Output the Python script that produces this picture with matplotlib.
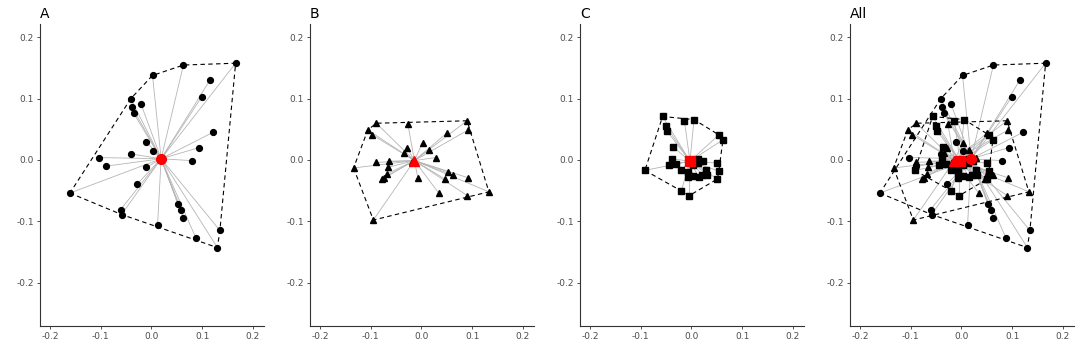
import numpy as np
import matplotlib.pyplot as plt

# === Data ===
a_x = [0.166, 0.063, 0.002, -0.041, 0.115, 0.099, -0.039, -0.021, -0.035, 0.121,
       -0.010, 0.093, 0.002, -0.041, -0.104, 0.079, -0.089, -0.010, -0.029, -0.161,
       0.052, 0.059, 0.063, -0.061, -0.059, 0.012, 0.088, 0.135, 0.130]
a_y = [0.158, 0.155, 0.138, 0.100, 0.130, 0.103, 0.087, 0.092, 0.076, 0.045,
       0.030, 0.020, 0.015, 0.010, 0.004, -0.001, -0.010, -0.012, -0.040, -0.054,
       -0.072, -0.082, -0.094, -0.081, -0.089, -0.106, -0.128, -0.115, -0.143]
a_cent = (0.019, 0.002)

b_x = [-0.089, -0.027, 0.090, -0.106, -0.097, 0.050, 0.092, 0.002, -0.028, -0.035,
       0.014, 0.028, -0.018, -0.090, -0.065, -0.066, -0.134, -0.069, -0.074, -0.077,
       0.052, 0.063, 0.092, 0.046, -0.007, 0.133, 0.034, 0.090, -0.095]
b_y = [0.060, 0.059, 0.064, 0.049, 0.041, 0.044, 0.049, 0.028, 0.019, 0.012,
       0.017, 0.004, -0.004, -0.004, -0.002, -0.012, -0.013, -0.023, -0.029, -0.031,
       -0.019, -0.025, -0.029, -0.031, -0.030, -0.052, -0.054, -0.058, -0.098]
b_cent = (-0.014, -0.001)

c_x = [-0.057, -0.014, 0.005, -0.051, -0.049, 0.054, 0.062, -0.037, -0.038, -0.044,
       -0.030, -0.021, -0.092, 0.012, 0.023, 0.002, 0.012, -0.006, -0.006, 0.002,
       0.014, 0.021, 0.031, 0.028, -0.020, -0.004, 0.051, 0.054, 0.051]
c_y = [0.071, 0.064, 0.066, 0.056, 0.048, 0.041, 0.033, 0.022, 0.002, -0.008,
       -0.006, -0.016, -0.017, 0.002, -0.001, -0.008, -0.005, -0.019, -0.027, -0.026,
       -0.027, -0.024, -0.024, -0.016, -0.050, -0.058, -0.005, -0.018, -0.031]
c_cent = (-0.003, -0.002)

groups = [('A', a_x, a_y, a_cent, 'o'),
          ('B', b_x, b_y, b_cent, '^'),
          ('C', c_x, c_y, c_cent, 's')]

ticks = [-0.2, -0.1, 0.0, 0.1, 0.2]
tick_labels = ['-0.2', '-0.1', '0.0', '0.1', '0.2']


def hull(xs, ys):
    # monotone chain convex hull, returns closed polygon
    pts = sorted(set(zip(xs, ys)))

    def cross(o, a, b):
        return (a[0] - o[0]) * (b[1] - o[1]) - (a[1] - o[1]) * (b[0] - o[0])

    lower, upper = [], []
    for p in pts:
        while len(lower) >= 2 and cross(lower[-2], lower[-1], p) <= 0:
            lower.pop()
        lower.append(p)
    for p in reversed(pts):
        while len(upper) >= 2 and cross(upper[-2], upper[-1], p) <= 0:
            upper.pop()
        upper.append(p)
    h = lower[:-1] + upper[:-1]
    h.append(h[0])
    return np.array(h)


def draw_group(ax, xs, ys, cent, marker):
    for x, y in zip(xs, ys):
        ax.plot([cent[0], x], [cent[1], y], color='#b5b5b5', lw=0.6, zorder=1)
    h = hull(xs, ys)
    ax.plot(h[:, 0], h[:, 1], color='black', lw=0.8, ls=(0, (4, 3)), zorder=2)
    ms = 4.2 if marker != 's' else 3.8
    ax.plot(xs, ys, ls='none', marker=marker, color='black', ms=ms, zorder=3)


def draw_centroid(ax, cent, marker):
    ax.plot(cent[0], cent[1], ls='none', marker=marker, color='red', ms=7, zorder=4)


def style(ax, title):
    ax.set_xlim(-0.22, 0.222)
    ax.set_ylim(-0.271, 0.222)
    for s in ['top', 'right']:
        ax.spines[s].set_visible(False)
    for s in ['left', 'bottom']:
        ax.spines[s].set_color('#333333')
        ax.spines[s].set_linewidth(0.8)
    ax.set_xticks(ticks)
    ax.set_xticklabels(tick_labels)
    ax.set_yticks(ticks)
    ax.set_yticklabels(tick_labels)
    ax.tick_params(labelsize=6.5, labelcolor='#4d4d4d', color='#333333',
                   length=2.5, width=0.6, pad=2)
    ax.set_title(title, loc='left', fontsize=10, pad=4)


fig = plt.figure(figsize=(10.8, 3.6), dpi=100)
lefts = [40, 310, 580, 850]
axes = [fig.add_axes([l / 1080, 34 / 360, 224 / 1080, 302 / 360]) for l in lefts]

for ax, (name, xs, ys, cent, m) in zip(axes[:3], groups):
    draw_group(ax, xs, ys, cent, m)
    draw_centroid(ax, cent, m)
    style(ax, name)

ax = axes[3]
for name, xs, ys, cent, m in groups:
    draw_group(ax, xs, ys, cent, m)
for name, xs, ys, cent, m in groups:
    draw_centroid(ax, cent, m)
style(ax, 'All')

fig.savefig('out.png', dpi=100)
